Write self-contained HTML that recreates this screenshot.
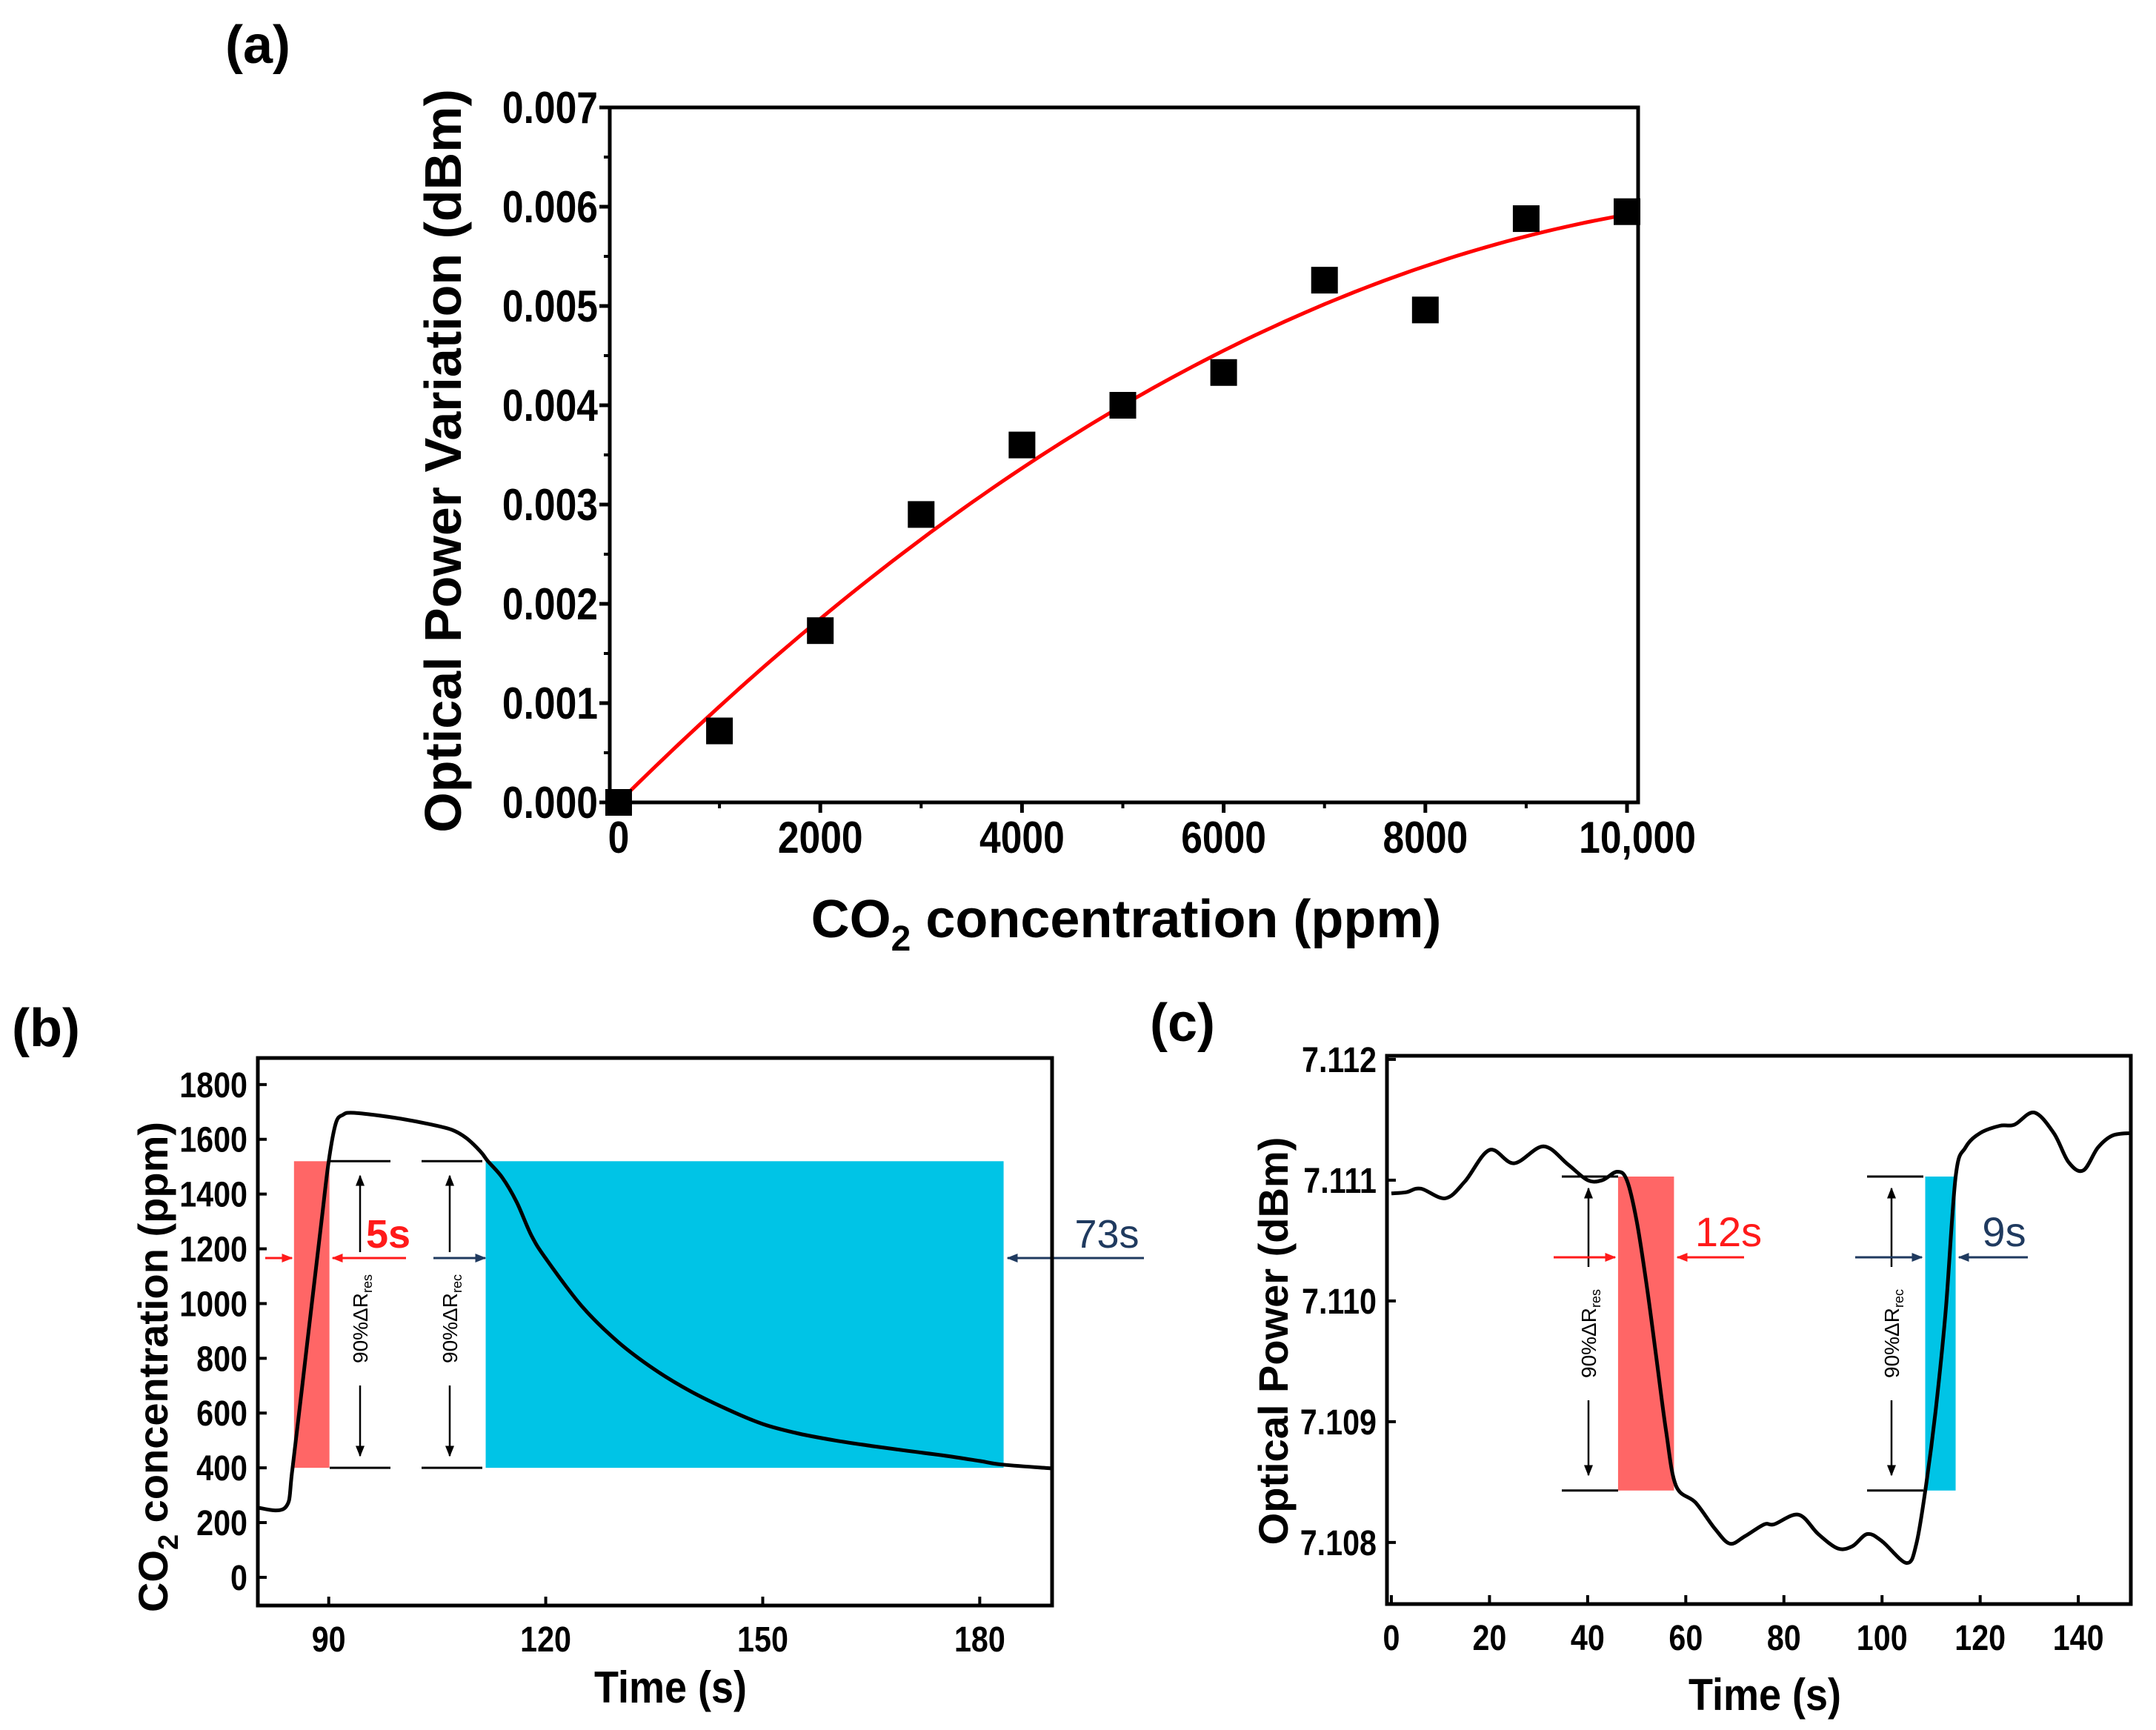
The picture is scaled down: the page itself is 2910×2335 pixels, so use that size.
<!DOCTYPE html>
<html><head><meta charset="utf-8"><style>
html,body{margin:0;padding:0;background:#fff;}
svg{display:block;font-family:"Liberation Sans",Arial,sans-serif;font-weight:bold;}
</style></head><body>
<svg id="fig" width="2910" height="2335" viewBox="0 0 2910 2335" xmlns="http://www.w3.org/2000/svg">
<defs>
<marker id="arR" viewBox="0 0 10 10" refX="9" refY="5" markerWidth="5" markerHeight="5" orient="auto-start-reverse"><path d="M0,1 L10,5 L0,9 z" fill="#ff1a1a"/></marker>
<marker id="arB" viewBox="0 0 10 10" refX="9" refY="5" markerWidth="5" markerHeight="5" orient="auto-start-reverse"><path d="M0,1 L10,5 L0,9 z" fill="#1f3a5f"/></marker>
<marker id="arK" viewBox="0 0 10 10" refX="9" refY="5" markerWidth="6" markerHeight="6" orient="auto-start-reverse"><path d="M0,1 L10,5 L0,9 z" fill="#000"/></marker>
</defs>
<g id="pa"></g>
<g id="pb"></g>
<g id="pc"></g>
</svg>
<script>
// Panel (a) data
const aConc = [0,1000,2000,3000,4000,5000,6000,7000,8000,9000,10000];
const aPower = [0.0000,0.00072,0.00173,0.0029,0.0036,0.0040,0.00433,0.00526,0.00496,0.00588,0.00595];
const aFitCoef = [-0.00003,1.008e-6,-4.16e-11];
const aXTicks = [0,2000,4000,6000,8000,10000];
const aXTickLabels = ["0","2000","4000","6000","8000","10,000"];
const aYTicks = [0,0.001,0.002,0.003,0.004,0.005,0.006,0.007];
const aYTickLabels = ["0.000","0.001","0.002","0.003","0.004","0.005","0.006","0.007"];
// Panel (b) data
const bTime = [80,84,85,87,89,90,91,92,93,96,100,104,107,109,111,112,114,116,118,120,125,130,135,140,145,150,155,160,165,170,175,180,183,190];
const bConc = [255,255,400,850,1300,1520,1660,1690,1697,1690,1675,1655,1635,1605,1555,1520,1460,1370,1250,1165,990,860,760,680,615,560,525,500,480,462,445,425,412,398];
const bXTicks = [90,120,150,180];
const bYTicks = [0,200,400,600,800,1000,1200,1400,1600,1800];
const bResp = [85.2,90.1];
const bRec = [111.7,183.3];
const bLevels = [400,1520];
// Panel (c) data
const cTime = [0,3,6,11,15,20,25,31,36,40,43,46,48,50,52,54,56,58,62,66,69,72,76,78,83,87,91,94,97,100,105,107,109,111,113,115,117,120,124,127,131,135,138,141,144,147,150.7];
const cPower = [7.11089,7.11090,7.11093,7.11085,7.11099,7.11125,7.11114,7.11128,7.11113,7.11100,7.11100,7.11107,7.11100,7.11066,7.11014,7.10953,7.10892,7.10847,7.10833,7.10811,7.10799,7.10805,7.10815,7.10815,7.10823,7.10807,7.10795,7.10797,7.10807,7.10801,7.10783,7.10799,7.10848,7.10912,7.10993,7.11103,7.11127,7.11139,7.11145,7.11146,7.11156,7.11139,7.11115,7.11108,7.11127,7.11137,7.11139];
const cXTicks = [0,20,40,60,80,100,120,140];
const cYTicks = [7.108,7.109,7.110,7.111,7.112];
const cResp = [46.2,57.6];
const cRec = [108.8,115.0];
const cLevels = [7.10843,7.11103];

const NS="http://www.w3.org/2000/svg";
function mk(parent,tag,attrs,text){const e=document.createElementNS(NS,tag);for(const k in attrs)e.setAttribute(k,attrs[k]);if(text!==undefined)e.textContent=text;parent.appendChild(e);return e;}
function lin(d0,d1,r0,r1){return v=>r0+(v-d0)/(d1-d0)*(r1-r0);}
function pathOf(xs,ys,X,Y){return xs.map((t,i)=>(i?'L':'M')+X(t).toFixed(1)+','+Y(ys[i]).toFixed(1)).join(' ');}
function smoothOf(xs,ys,X,Y){
 const p=xs.map((t,i)=>[X(t),Y(ys[i])]);
 let d='M'+p[0][0].toFixed(1)+','+p[0][1].toFixed(1);
 for(let i=0;i<p.length-1;i++){
  const p0=p[Math.max(0,i-1)],p1=p[i],p2=p[i+1],p3=p[Math.min(p.length-1,i+2)];
  const c1=[p1[0]+(p2[0]-p0[0])/6,p1[1]+(p2[1]-p0[1])/6];
  const c2=[p2[0]-(p3[0]-p1[0])/6,p2[1]-(p3[1]-p1[1])/6];
  d+=' C'+c1[0].toFixed(1)+','+c1[1].toFixed(1)+' '+c2[0].toFixed(1)+','+c2[1].toFixed(1)+' '+p2[0].toFixed(1)+','+p2[1].toFixed(1);
 }
 return d;
}
function ctext(g,x,y,size,anchor,str){return mk(g,'text',{x:0,y:0,'font-size':size,'text-anchor':anchor,transform:`translate(${x},${y}) scale(0.86,1)`},str);}

// ---------- Panel A ----------
(function(){
const g=document.getElementById('pa');
const L=823,R=2211,T=145,B=1083;
const X=lin(-88,10110,L,R), Y=lin(0,0.007,B,T);
let e;
e=mk(g,'text',{x:348,y:85,'font-size':72,'text-anchor':'middle'},'(a)');


aYTicks.forEach((v,i)=>{
 let t=mk(g,'line',{x1:L-14,x2:L,y1:Y(v),y2:Y(v),stroke:'#000','stroke-width':5});
 
 
 if(i<aYTicks.length-1){let m=mk(g,'line',{x1:L-8,x2:L,y1:Y(v+0.0005),y2:Y(v+0.0005),stroke:'#000','stroke-width':4});
 
 }
 let l=ctext(g,L-16,Y(v)+21,60,'end',aYTickLabels[i]);
 
 
});
aXTicks.forEach((v,i)=>{
 let t=mk(g,'line',{x1:X(v),x2:X(v),y1:B,y2:B+14,stroke:'#000','stroke-width':5});
 
 
 if(i<aXTicks.length-1){let m=mk(g,'line',{x1:X(v+1000),x2:X(v+1000),y1:B,y2:B+8,stroke:'#000','stroke-width':4});
 
 }
 let l=ctext(g,X(v)+(i==aXTicks.length-1?14:0),B+68,60,'middle',aXTickLabels[i]);
 
 
});
const fx=[],fy=[];for(let k=0;k<=100;k++){const x=k*100;fx.push(x);fy.push(aFitCoef[1]*x+aFitCoef[2]*x*x+(k==0?aFitCoef[0]:0));}
e=mk(g,'path',{d:pathOf(fx,fy,X,Y),fill:'none',stroke:'#ff0000','stroke-width':5});


aConc.forEach((c,i)=>{
 let s=mk(g,'rect',{x:X(c)-18,y:Y(aPower[i])-18,width:36,height:36,fill:'#000'});
 
 
});
e=mk(g,'rect',{x:L,y:T,width:R-L,height:B-T,fill:'none',stroke:'#000','stroke-width':5});


e=mk(g,'text',{x:1520,y:1265,'font-size':72,'text-anchor':'middle'});


e.innerHTML='CO<tspan font-size="48" dy="18">2</tspan><tspan dy="-18"> concentration (ppm)</tspan>';
e=mk(g,'text',{x:0,y:0,'font-size':70,'text-anchor':'middle',transform:'translate(622,622) rotate(-90)'},'Optical Power Variation (dBm)');


})();

// ---------- Panel B ----------
(function(){
const g=document.getElementById('pb');
const L=348,R=1420,T=1428,B=2167;
const X=lin(80.2,190,L,R), Y=lin(-103,1897,B,T);
let e;
e=mk(g,'text',{x:62,y:1412,'font-size':72,'text-anchor':'middle'},'(b)');


bYTicks.forEach(v=>{
 let t=mk(g,'line',{x1:L,x2:L+12,y1:Y(v),y2:Y(v),stroke:'#000','stroke-width':4});
 
 
 let l=ctext(g,L-14,Y(v)+17,48,'end',String(v));
 
 
});
bXTicks.forEach(v=>{
 let t=mk(g,'line',{x1:X(v),x2:X(v),y1:B,y2:B-12,stroke:'#000','stroke-width':4});
 
 
 let l=ctext(g,X(v),B+62,48,'middle',String(v));
 
 
});
e=mk(g,'rect',{x:X(bResp[0]),y:Y(bLevels[1]),width:X(bResp[1])-X(bResp[0]),height:Y(bLevels[0])-Y(bLevels[1]),fill:'#ff6666'});


e=mk(g,'rect',{x:X(bRec[0]),y:Y(bLevels[1]),width:X(bRec[1])-X(bRec[0]),height:Y(bLevels[0])-Y(bLevels[1]),fill:'#00c4e6'});


e=mk(g,'path',{d:smoothOf(bTime,bConc,X,Y),fill:'none',stroke:'#000','stroke-width':5,'stroke-linejoin':'round'});


[[445,527],[569,651]].forEach(p=>bLevels.forEach(v=>{
 let t=mk(g,'line',{x1:p[0],x2:p[1],y1:Y(v),y2:Y(v),stroke:'#000','stroke-width':3});
 
 
}));
[486,607].forEach((x,i)=>{
 let t=mk(g,'line',{x1:x,x2:x,y1:1587,y2:1965,stroke:'#000','stroke-width':2.5,'marker-start':'url(#arK)','marker-end':'url(#arK)'});
 
 
 let r=mk(g,'rect',{x:x-16,y:1690,width:32,height:180,fill:'#fff'});
 
 
 let l=mk(g,'text',{x:0,y:0,'font-size':28,'font-weight':'normal','text-anchor':'middle',transform:`translate(${x+10},1780) rotate(-90)`});
 
 
 l.innerHTML='90%ΔR<tspan font-size="18" dy="6">'+(i?'rec':'res')+'</tspan>';
});
const ay=1698;
e=mk(g,'line',{x1:358,x2:394,y1:ay,y2:ay,stroke:'#ff1a1a','stroke-width':3,'marker-end':'url(#arR)'});


e=mk(g,'line',{x1:548,x2:449,y1:ay,y2:ay,stroke:'#ff1a1a','stroke-width':3,'marker-end':'url(#arR)'});


e=mk(g,'line',{x1:585,x2:655,y1:ay,y2:ay,stroke:'#1f3a5f','stroke-width':3,'marker-end':'url(#arB)'});


e=mk(g,'line',{x1:1544,x2:1360,y1:ay,y2:ay,stroke:'#1f3a5f','stroke-width':3,'marker-end':'url(#arB)'});


e=mk(g,'text',{x:524,y:1684,'font-size':54,fill:'#ff1a1a','text-anchor':'middle'},'5s');


e=mk(g,'text',{x:1494,y:1684,'font-size':54,'font-weight':'normal',fill:'#1f3a5f','text-anchor':'middle'},'73s');


e=mk(g,'rect',{x:L,y:T,width:R-L,height:B-T,fill:'none',stroke:'#000','stroke-width':5});


e=mk(g,'text',{x:905,y:2298,'font-size':60,'text-anchor':'middle',transform:'translate(905,0) scale(0.9,1) translate(-905,0)'},'Time (s)');


e=mk(g,'text',{x:0,y:0,'font-size':56,'text-anchor':'middle',transform:'translate(226,1845) rotate(-90)'});


e.innerHTML='CO<tspan font-size="38" dy="14">2</tspan><tspan dy="-14"> concentration (ppm)</tspan>';
})();

// ---------- Panel C ----------
(function(){
const g=document.getElementById('pc');
const L=1872,R=2876,T=1425,B=2165;
const X=lin(-0.9,150.7,L,R), Y=lin(7.10749,7.11203,B,T);
let e;
e=mk(g,'text',{x:1596,y:1405,'font-size':72,'text-anchor':'middle'},'(c)');


cYTicks.forEach(v=>{
 let t=mk(g,'line',{x1:L,x2:L+12,y1:Y(v),y2:Y(v),stroke:'#000','stroke-width':4});
 
 
 let l=ctext(g,L-14,Y(v)+17,48,'end',v.toFixed(3));
 
 
});
cXTicks.forEach(v=>{
 let t=mk(g,'line',{x1:X(v),x2:X(v),y1:B,y2:B-12,stroke:'#000','stroke-width':4});
 
 
 let l=ctext(g,X(v),B+62,48,'middle',String(v));
 
 
});
e=mk(g,'rect',{x:X(cResp[0]),y:Y(cLevels[1]),width:X(cResp[1])-X(cResp[0]),height:Y(cLevels[0])-Y(cLevels[1]),fill:'#ff6666'});


e=mk(g,'rect',{x:X(cRec[0]),y:Y(cLevels[1]),width:X(cRec[1])-X(cRec[0]),height:Y(cLevels[0])-Y(cLevels[1]),fill:'#00c4e6'});


e=mk(g,'path',{d:smoothOf(cTime,cPower,X,Y),fill:'none',stroke:'#000','stroke-width':5,'stroke-linejoin':'round'});


[[2108,2184],[2520,2596]].forEach(p=>cLevels.forEach(v=>{
 let t=mk(g,'line',{x1:p[0],x2:p[1],y1:Y(v),y2:Y(v),stroke:'#000','stroke-width':3});
 
 
}));
[2144,2553].forEach((x,i)=>{
 let t=mk(g,'line',{x1:x,x2:x,y1:1604,y2:1991,stroke:'#000','stroke-width':2.5,'marker-start':'url(#arK)','marker-end':'url(#arK)'});
 
 
 let r=mk(g,'rect',{x:x-16,y:1710,width:32,height:180,fill:'#fff'});
 
 
 let l=mk(g,'text',{x:0,y:0,'font-size':28,'font-weight':'normal','text-anchor':'middle',transform:`translate(${x+10},1800) rotate(-90)`});
 
 
 l.innerHTML='90%ΔR<tspan font-size="18" dy="6">'+(i?'rec':'res')+'</tspan>';
});
const ay=1697;
e=mk(g,'line',{x1:2097,x2:2180,y1:ay,y2:ay,stroke:'#ff1a1a','stroke-width':3,'marker-end':'url(#arR)'});


e=mk(g,'line',{x1:2354,x2:2264,y1:ay,y2:ay,stroke:'#ff1a1a','stroke-width':3,'marker-end':'url(#arR)'});


e=mk(g,'line',{x1:2504,x2:2594,y1:ay,y2:ay,stroke:'#1f3a5f','stroke-width':3,'marker-end':'url(#arB)'});


e=mk(g,'line',{x1:2737,x2:2644,y1:ay,y2:ay,stroke:'#1f3a5f','stroke-width':3,'marker-end':'url(#arB)'});


e=mk(g,'text',{x:2333,y:1682,'font-size':56,'font-weight':'normal',fill:'#ff1a1a','text-anchor':'middle'},'12s');


e=mk(g,'text',{x:2705,y:1682,'font-size':56,'font-weight':'normal',fill:'#1f3a5f','text-anchor':'middle'},'9s');


e=mk(g,'rect',{x:L,y:T,width:R-L,height:B-T,fill:'none',stroke:'#000','stroke-width':5});


e=mk(g,'text',{x:2382,y:2308,'font-size':60,'text-anchor':'middle',transform:'translate(2382,0) scale(0.9,1) translate(-2382,0)'},'Time (s)');


e=mk(g,'text',{x:0,y:0,'font-size':56,'text-anchor':'middle',transform:'translate(1738,1810) rotate(-90)'},'Optical Power (dBm)');


})();
</script>
</body></html>
